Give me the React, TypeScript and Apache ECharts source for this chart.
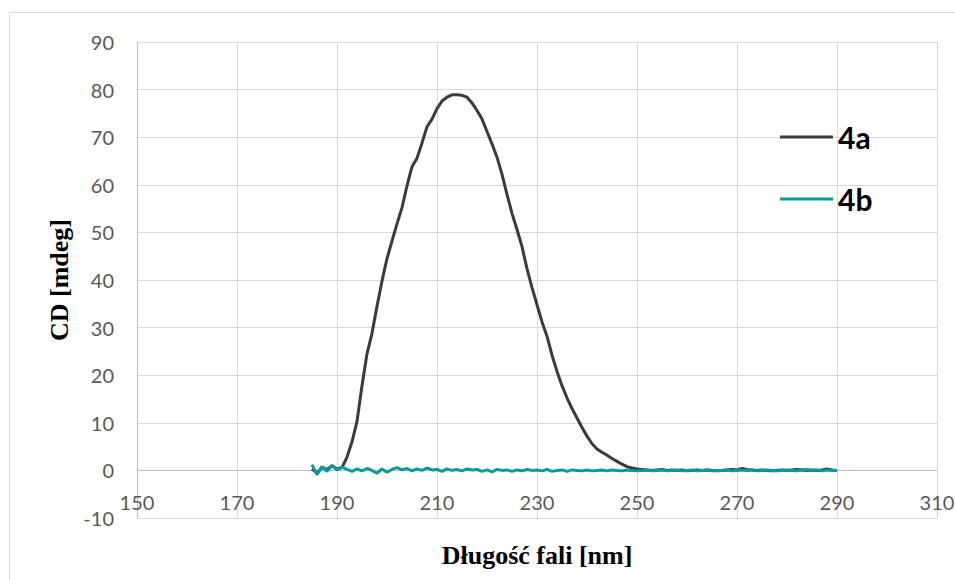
import React, { useEffect, useRef } from "react";
import * as echarts from "echarts";

// Wavelength grid (nm): first value and step
const WL_START = 185;
const WL_STEP = 1;

// Series 4a (CD, mdeg), 185..290 nm
const series4a = [
  0.3, -0.5, 0.6, 0.2, 1.0, 0.3, 0.6, 2.8, 6.0, 10.3, // 185-194
  17.8, 24.5, 28.8, 34.5, 39.8, 44.5, 48.2, 51.8, 55.2, 59.8, // 195-204
  63.8, 65.6, 68.8, 72.2, 73.8, 76.0, 77.6, 78.4, 78.9, 78.9, // 205-214
  78.8, 78.4, 77.2, 75.6, 73.8, 71.2, 68.6, 65.8, 62.2, 58.0, // 215-224
  54.0, 50.6, 47.0, 42.4, 38.4, 34.8, 31.2, 28.2, 24.2, 20.8, // 225-234
  17.8, 15.2, 13.0, 11.0, 9.0, 7.2, 5.6, 4.5, 3.8, 3.2, // 235-244
  2.5, 1.9, 1.3, 0.8, 0.5, 0.3, 0.2, 0.1, 0.0, 0.1, // 245-254
  0.2, 0.0, 0.1, 0.0, 0.1, -0.1, 0.0, 0.1, 0.0, 0.1, // 255-264
  0.0, -0.1, 0.0, 0.1, 0.2, 0.1, 0.4, 0.2, 0.1, 0.0, // 265-274
  0.1, 0.0, -0.1, 0.0, 0.1, 0.0, 0.1, 0.2, 0.1, 0.0, // 275-284
  0.1, 0.0, 0.1, 0.3, 0.1, 0.0, // 285-290
];

// Series 4b (CD, mdeg), 185..290 nm
const series4b = [
  1.2, -0.9, 0.8, -0.2, 1.0, 0.1, 0.7, 0.2, -0.2, 0.3, // 185-194
  -0.1, 0.4, 0.0, -0.6, 0.3, -0.4, 0.2, 0.6, 0.1, 0.4, // 195-204
  -0.1, 0.3, 0.0, 0.5, 0.1, 0.2, -0.2, 0.3, 0.0, 0.2, // 205-214
  -0.1, 0.3, 0.1, 0.2, -0.2, 0.1, -0.3, 0.2, 0.0, 0.1, // 215-224
  -0.2, 0.1, -0.1, 0.2, 0.0, 0.1, -0.1, 0.2, -0.2, 0.0, // 225-234
  0.1, -0.2, 0.1, 0.0, -0.1, 0.1, -0.1, 0.0, 0.1, -0.1, // 235-244
  0.1, 0.0, -0.1, 0.1, 0.0, -0.1, 0.0, 0.1, -0.1, 0.0, // 245-254
  0.1, -0.1, 0.0, 0.1, -0.1, 0.0, 0.1, -0.1, 0.0, 0.1, // 255-264
  -0.1, 0.0, 0.0, 0.1, -0.1, 0.0, 0.1, 0.0, 0.1, -0.1, // 265-274
  0.0, 0.1, 0.0, -0.1, 0.0, 0.1, 0.0, -0.1, 0.1, 0.2, // 275-284
  0.0, 0.1, -0.1, 0.1, 0.0, 0.0, // 285-290
];

const SERIES_NAMES = ["4a", "4b"];
const SERIES_COLORS = ["#3b3b3b", "#0a9a9a"];

const X_MIN = 150;
const X_MAX = 310;
const X_INTERVAL = 20;
const Y_MIN = -10;
const Y_MAX = 90;
const Y_INTERVAL = 10;
const ZERO_LINE = 0;

const X_TITLE = "Długość fali [nm]";
const Y_TITLE = "CD [mdeg]";

function toPairs(values: number[]) {
  return values.map((v, i) => [WL_START + i * WL_STEP, v]);
}

export default function App() {
  const ref = useRef<HTMLDivElement>(null);

  useEffect(() => {
    if (!ref.current) return;
    const chart = echarts.init(ref.current, undefined, { renderer: "svg" });
    const tickFont = {
      fontFamily: "Lato, 'Open Sans', sans-serif",
      fontSize: 20,
      color: "#595959",
    };
    const titleFont = {
      fontFamily: "'Liberation Serif', 'Times New Roman', serif",
      fontWeight: "bold" as const,
      fontSize: 26,
      color: "#000000",
    };
    chart.setOption({
      animation: false,
      backgroundColor: "#ffffff",
      grid: {
        left: 137,
        right: 18,
        top: 42,
        bottom: 62,
        containLabel: false,
        outerBoundsMode: "none",
      },
      graphic: [
        {
          type: "rect",
          z: -10,
          shape: { x: 9.5, y: 12.5, width: 1000, height: 700 },
          style: { fill: "none", stroke: "#d9d9d9", lineWidth: 1 },
          silent: true,
        },
      ],
      legend: {
        orient: "vertical",
        left: 780,
        top: 122,
        padding: 0,
        itemWidth: 53,
        itemHeight: 3,
        itemGap: 32,
        icon: "rect",
        data: SERIES_NAMES.map((n) => ({ name: n })),
        textStyle: {
          fontFamily: "Lato, 'Open Sans', sans-serif",
          fontWeight: "bold",
          fontSize: 30,
          lineHeight: 30,
          color: "#000000",
        },
      },
      xAxis: {
        type: "value",
        min: X_MIN,
        max: X_MAX,
        interval: X_INTERVAL,
        name: X_TITLE,
        nameLocation: "middle",
        nameGap: 24,
        nameTextStyle: titleFont,
        axisLine: { show: false, onZero: false },
        axisTick: { show: false },
        axisLabel: { ...tickFont, margin: -26 },
        splitLine: { show: true, lineStyle: { color: "#d9d9d9", width: 1 } },
      },
      yAxis: {
        type: "value",
        min: Y_MIN,
        max: Y_MAX,
        interval: Y_INTERVAL,
        name: Y_TITLE,
        nameLocation: "middle",
        nameRotate: 90,
        nameGap: 62,
        nameTextStyle: titleFont,
        axisLine: { show: true, onZero: false, lineStyle: { color: "#bfbfbf", width: 1 } },
        axisTick: { show: false },
        axisLabel: { ...tickFont, margin: 23 },
        splitLine: { show: true, lineStyle: { color: "#d9d9d9", width: 1 } },
      },
      series: [
        {
          name: SERIES_NAMES[0],
          type: "line",
          data: toPairs(series4a),
          showSymbol: false,
          symbol: "none",
          lineStyle: { color: SERIES_COLORS[0], width: 3 },
          itemStyle: { color: SERIES_COLORS[0] },
          z: 2,
          markLine: {
            silent: true,
            symbol: "none",
            label: { show: false },
            lineStyle: { color: "#bfbfbf", width: 1, type: "solid" },
            data: [{ yAxis: ZERO_LINE }],
            z: 1,
          },
        },
        {
          name: SERIES_NAMES[1],
          type: "line",
          data: toPairs(series4b),
          showSymbol: false,
          symbol: "none",
          lineStyle: { color: SERIES_COLORS[1], width: 3 },
          itemStyle: { color: SERIES_COLORS[1] },
          z: 3,
        },
      ],
    });
    return () => chart.dispose();
  }, []);

  return (
    <div
      ref={ref}
      style={{ position: "absolute", left: 0, top: 0, width: 955, height: 580, background: "#fff" }}
    />
  );
}
